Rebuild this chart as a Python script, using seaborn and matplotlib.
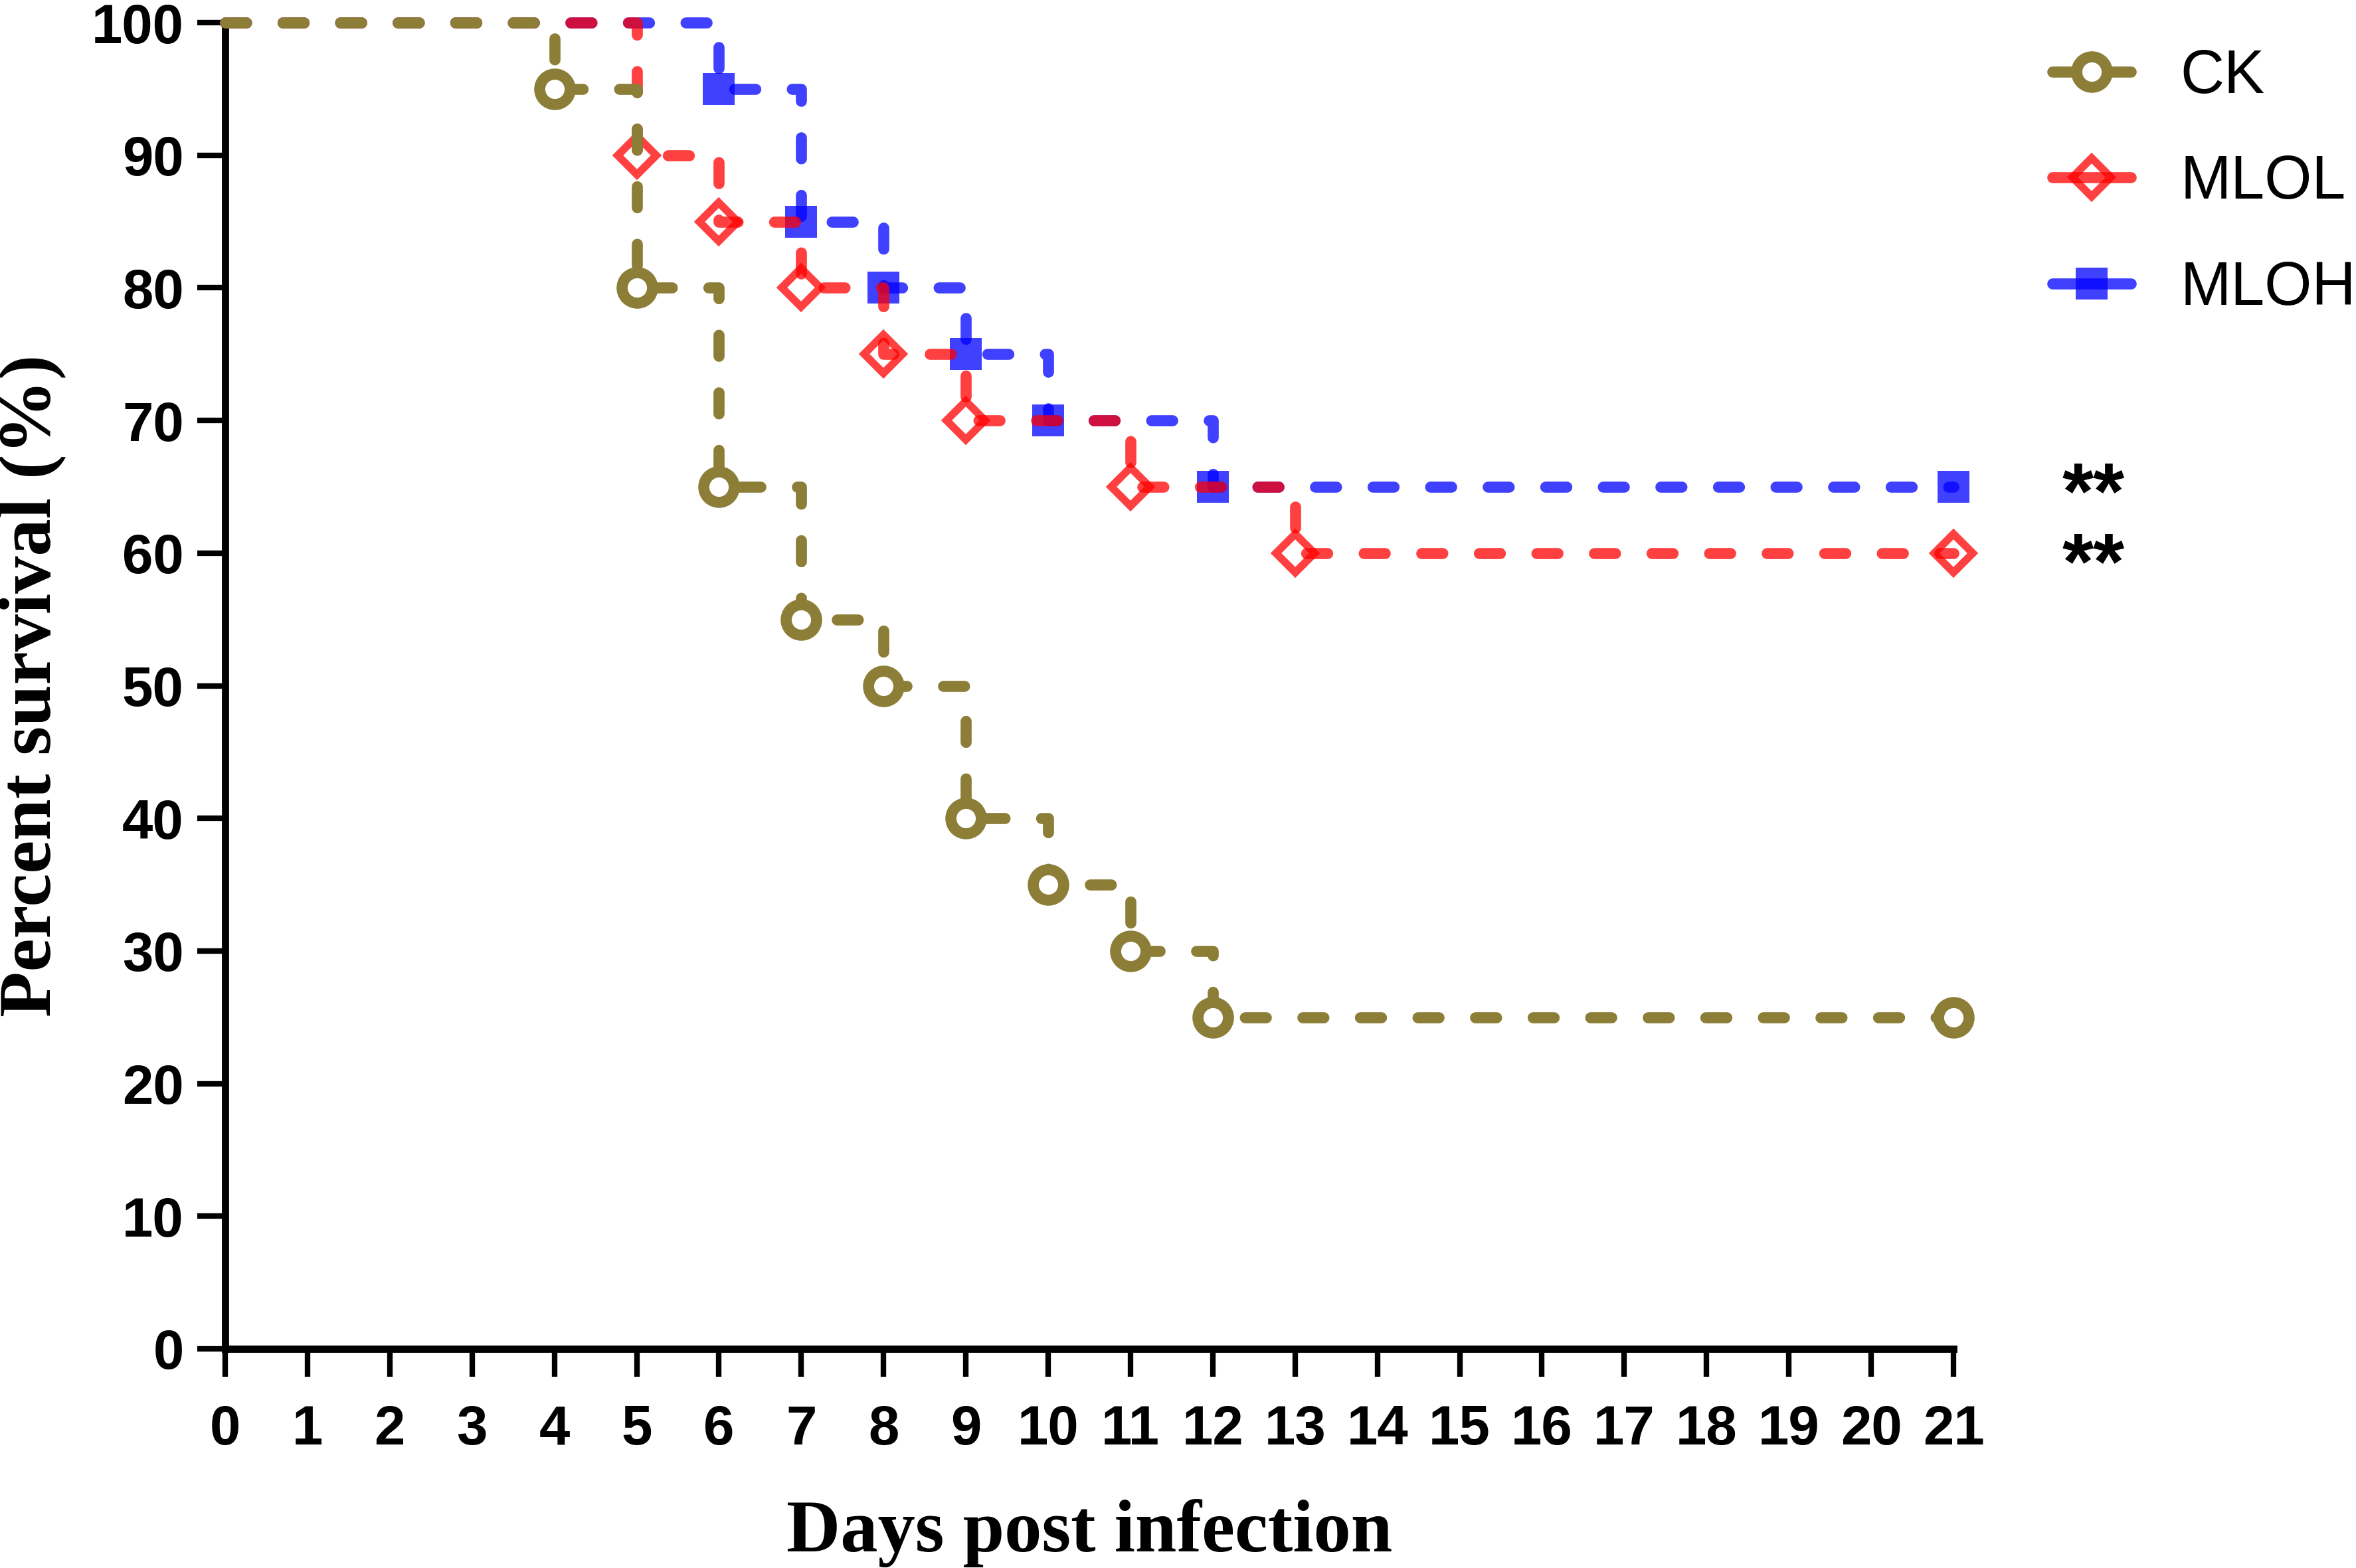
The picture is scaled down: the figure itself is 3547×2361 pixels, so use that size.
import matplotlib
matplotlib.use("Agg")
import matplotlib.pyplot as plt
from matplotlib.lines import Line2D
import pandas as pd
import seaborn as sns

# Kaplan-Meier style survival steps
ck_days = [0, 4, 5, 6, 7, 8, 9, 10, 11, 12, 21]
ck_surv = [100, 95, 80, 65, 55, 50, 40, 35, 30, 25, 25]
mlol_days = [0, 5, 6, 7, 8, 9, 11, 13, 21]
mlol_surv = [100, 90, 85, 80, 75, 70, 65, 60, 60]
mloh_days = [0, 6, 7, 8, 9, 10, 12, 21]
mloh_surv = [100, 95, 85, 80, 75, 70, 65, 65]

groups = ["CK", "MLOL", "MLOH"]
signif = {"MLOH": "**", "MLOL": "**"}

sns.set_style("ticks")
plt.rcParams["font.family"] = ["Liberation Sans", "DejaVu Sans"]
for key in ["text.color", "axes.labelcolor", "xtick.color", "ytick.color", "axes.edgecolor"]:
    plt.rcParams[key] = "black"

fig = plt.figure(figsize=(3547 / 300, 2361 / 300), dpi=300)
ax = fig.add_axes([339 / 3547, 1 - 2031 / 2361, (2941 - 339) / 3547, (2031 - 34) / 2361])

dash = (0, (1.9, 3.3))
styles = {
    "MLOH": dict(color="blue", alpha=0.75, marker="s", markersize=11.5,
                 markeredgewidth=0, markerfacecolor="blue", zorder=3),
    "MLOL": dict(color="red", alpha=0.75, marker="D", markersize=10,
                 markeredgewidth=2.8, markeredgecolor="red",
                 markerfacecolor="none", zorder=4),
    "CK": dict(color="#8c7d37", alpha=1.0, marker="o", markersize=11,
               markeredgewidth=4, markeredgecolor="#8c7d37",
               markerfacecolor="white", zorder=5),
}
data = {
    "CK": (ck_days, ck_surv),
    "MLOL": (mlol_days, mlol_surv),
    "MLOH": (mloh_days, mloh_surv),
}

for g in ["MLOH", "MLOL", "CK"]:
    d, s = data[g]
    df = pd.DataFrame({"day": d, "surv": s})
    st = styles[g]
    sns.lineplot(data=df, x="day", y="surv", ax=ax, drawstyle="steps-post",
                 linewidth=4, linestyle=dash, dash_capstyle="round",
                 markevery=list(range(1, len(d))), clip_on=False, **st)

# asterisks sit high in the text box, so nudge them down onto the line
star_shift = {"MLOH": -0.8, "MLOL": -1.1}
for g, txt in signif.items():
    ax.text(22.7, data[g][1][-1] + star_shift[g], txt, fontsize=29,
            fontweight="bold", ha="center", va="center", clip_on=False)

ax.set_xlim(0, 21)
ax.set_ylim(0, 100)
ax.set_xticks(range(0, 22))
ax.set_yticks(range(0, 101, 10))
sns.despine(ax=ax)
for sp in ["left", "bottom"]:
    ax.spines[sp].set_linewidth(2.6)
ax.tick_params(axis="both", length=10, width=2, labelsize=20, color="black")
ax.tick_params(axis="x", pad=10)
ax.tick_params(axis="y", pad=5)
for lab in ax.get_xticklabels() + ax.get_yticklabels():
    lab.set_fontweight("bold")

ax.set_xlabel("Days post infection", family="Liberation Serif",
              fontweight="bold", fontsize=27)
ax.set_ylabel("Percent survival (%)", family="Liberation Serif",
              fontweight="bold", fontsize=27)
ax.xaxis.set_label_coords(0.5, -0.139)
ax.xaxis.label.set_va("center")
ax.yaxis.set_label_coords(-0.112, 0.5)
ax.yaxis.label.set_va("center")

handles = []
for g in groups:
    st = {k: v for k, v in styles[g].items() if k != "zorder"}
    handles.append(Line2D([0], [0], linewidth=4, **st))
ax.legend(handles, groups, loc="upper left", bbox_to_anchor=(3090 / 3547, 1 - 73 / 2361),
          bbox_transform=fig.transFigure, frameon=False, fontsize=22,
          handlelength=1.29, handletextpad=0.81, labelspacing=0.8,
          borderpad=0, borderaxespad=0)

fig.savefig("out.png", dpi=300)
